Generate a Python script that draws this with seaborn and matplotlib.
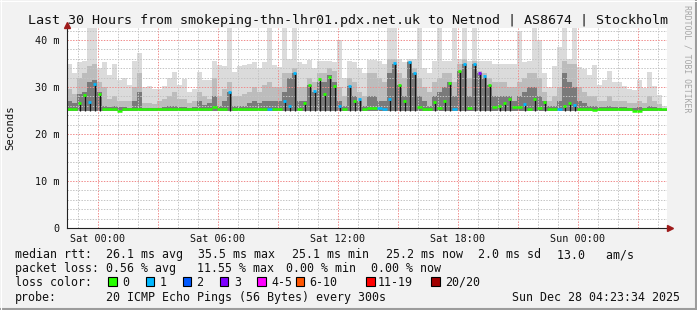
import numpy as np
import matplotlib
matplotlib.use("Agg")
import matplotlib.pyplot as plt
import seaborn as sns
from matplotlib.patches import Rectangle
from matplotlib.lines import Line2D
from matplotlib.ticker import MultipleLocator

# ---------------- data ----------------
start_hour = -1.55      # hours relative to Sat 00:00
bin_hours = 0.25        # 15 minute bins
smoke_floor = 25.0

smoke_max = [35.0, 33.0, 35.4, 35.5, 42.5, 42.5, 34.0, 35.4, 32.5, 35.0,
             31.5, 32.0, 30.5, 35.5, 37.2, 30.0, 30.3, 29.5, 29.6, 30.2,
             32.0, 33.2, 30.4, 31.8, 29.0, 29.5, 33.2, 31.5, 31.5, 35.6,
             34.7, 34.5, 43.0, 33.2, 34.5, 34.7, 34.8, 35.4, 34.0, 35.4,
             43.0, 34.7, 34.2, 43.0, 36.0, 43.0, 35.4, 35.0, 35.8, 34.0,
             35.5, 35.5, 35.5, 35.4, 40.0, 32.0, 35.5, 35.4, 34.0, 33.0,
             35.8, 35.8, 35.5, 35.0, 43.0, 43.0, 36.0, 35.4, 36.0, 36.0,
             43.0, 34.0, 33.0, 35.5, 42.5, 35.5, 35.5, 43.0, 36.0, 43.0,
             35.5, 43.0, 35.5, 35.5, 35.5, 35.0, 35.0, 35.0, 35.0, 35.0,
             42.0, 35.4, 35.5, 42.5, 40.0, 33.0, 30.0, 34.5, 38.5, 42.5,
             36.0, 43.0, 34.2, 33.8, 32.6, 34.7, 30.4, 31.4, 33.5, 31.1,
             31.1, 30.2, 29.6, 29.3, 31.4, 29.8, 33.2, 30.2, 28.3, 26.0]

smoke_mid = [29.5, 28.5, 32.0, 33.0, 34.5, 35.0, 31.0, 30.0, 27.5, 28.0,
             27.0, 27.0, 27.0, 30.0, 33.0, 26.5, 26.5, 26.3, 27.0, 27.5,
             28.0, 29.0, 27.5, 27.5, 26.5, 27.0, 29.0, 28.0, 27.5, 32.0,
             28.0, 29.5, 31.0, 28.0, 28.0, 28.5, 29.0, 30.0, 29.0, 30.5,
             31.0, 30.0, 30.0, 33.0, 33.0, 34.0, 30.0, 30.0, 32.0, 31.0,
             33.0, 33.0, 34.0, 33.5, 30.0, 28.0, 32.0, 31.0, 29.0, 28.0,
             33.0, 33.0, 32.0, 31.0, 36.0, 36.0, 33.0, 32.0, 35.5, 34.0,
             32.0, 30.0, 29.0, 31.0, 32.0, 33.0, 33.0, 31.0, 35.0, 36.0,
             32.0, 35.5, 33.5, 33.0, 32.0, 31.0, 31.0, 31.0, 30.0, 30.0,
             31.0, 32.0, 33.0, 33.0, 32.0, 29.0, 27.0, 28.0, 30.0, 35.5,
             35.0, 35.0, 30.0, 29.0, 28.0, 28.0, 27.0, 27.0, 28.0, 27.0,
             27.0, 27.0, 26.5, 26.5, 27.0, 26.5, 28.0, 27.0, 26.3, 25.5]

smoke_dark = [27.0, 26.5, 28.5, 29.0, 31.0, 31.5, 29.0, 26.0, 25.8, 26.0,
              25.7, 25.7, 25.6, 27.0, 29.0, 25.6, 25.5, 25.5, 25.6, 25.7,
              26.0, 26.0, 25.8, 25.8, 25.6, 25.7, 27.0, 26.2, 26.5, 28.0,
              26.0, 27.0, 29.0, 26.0, 26.0, 26.0, 26.5, 27.0, 26.5, 27.0,
              27.0, 27.0, 27.0, 29.0, 32.0, 32.9, 27.0, 27.0, 30.5, 29.0,
              31.0, 31.0, 32.5, 31.0, 27.0, 26.0, 30.3, 28.0, 27.0, 26.0,
              28.0, 28.0, 27.0, 27.0, 33.0, 35.0, 30.4, 28.0, 35.4, 33.0,
              28.0, 27.0, 26.0, 28.0, 29.0, 30.0, 31.0, 28.0, 33.4, 35.0,
              28.0, 35.0, 33.0, 32.0, 30.4, 28.0, 28.0, 28.0, 28.0, 27.0,
              28.0, 29.0, 30.0, 30.0, 28.0, 27.0, 26.0, 26.0, 27.0, 33.0,
              31.0, 30.0, 27.0, 26.5, 26.0, 26.0, 25.7, 25.7, 26.0, 25.7,
              25.7, 25.7, 25.6, 25.6, 25.7, 25.6, 26.0, 25.7, 25.5, 25.3]

median_rtt = [25.3, 25.3, 26.5, 28.3, 26.8, 30.7, 28.5, 25.25, 25.25, 25.25,
              25.0, 25.25, 25.25, 25.25, 25.3, 25.25, 25.25, 25.25, 25.25, 25.25,
              25.25, 25.25, 25.25, 25.25, 25.25, 25.25, 25.25, 25.25, 25.25, 25.7,
              25.25, 25.25, 29.0, 25.25, 25.25, 25.25, 25.25, 25.25, 25.25, 25.25,
              25.25, 25.25, 25.25, 27.0, 26.0, 32.9, 25.3, 26.6, 30.5, 29.1,
              31.6, 28.5, 32.2, 30.3, 26.0, 25.4, 30.3, 27.0, 27.4, 25.3,
              25.6, 25.6, 25.5, 25.3, 27.5, 35.2, 30.4, 27.0, 35.4, 33.0,
              25.8, 25.3, 25.3, 26.9, 25.5, 27.0, 30.9, 25.4, 33.4, 35.0,
              25.5, 35.0, 33.0, 32.3, 30.4, 25.7, 26.0, 26.5, 27.5, 25.8,
              25.8, 26.3, 25.4, 27.5, 25.5, 26.8, 25.25, 25.25, 25.25, 26.0,
              26.7, 26.2, 25.3, 25.3, 25.3, 25.1, 25.25, 25.25, 25.25, 25.25,
              25.25, 25.25, 25.25, 25.0, 25.0, 25.25, 25.25, 25.25, 25.25, 25.25]

loss_pings = [0, 0, 0, 0, 1, 1, 0, 0, 0, 0,
              0, 0, 0, 0, 0, 0, 0, 0, 0, 0,
              0, 0, 0, 0, 0, 0, 0, 0, 0, 0,
              0, 0, 1, 0, 0, 0, 0, 0, 0, 0,
              1, 0, 0, 1, 1, 1, 0, 0, 0, 1,
              0, 0, 0, 0, 1, 0, 1, 0, 1, 0,
              0, 0, 1, 1, 1, 1, 0, 0, 1, 1,
              0, 0, 0, 0, 0, 0, 0, 1, 0, 1,
              0, 1, 3, 1, 0, 0, 0, 0, 0, 0,
              0, 1, 0, 0, 0, 0, 0, 0, 1, 0,
              0, 1, 0, 0, 0, 0, 0, 0, 0, 0,
              0, 0, 0, 0, 0, 0, 0, 0, 0, 0]

tick_hours = [0, 6, 12, 18, 24]
tick_labels = ["Sat 00:00", "Sat 06:00", "Sat 12:00", "Sat 18:00", "Sun 00:00"]
ytick_values = [0, 10, 20, 30, 40]
ytick_labels = ["0", "10 m", "20 m", "30 m", "40 m"]

loss_labels = ["0", "1", "2", "3", "4-5", "6-10", "11-19", "20/20"]
loss_colors = ["#26ff00", "#00b8ff", "#0059ff", "#7e00ff",
               "#ff00ff", "#ff5500", "#ff0000", "#a10000"]

title = "Last 30 Hours from smokeping-thn-lhr01.pdx.net.uk to Netnod | AS8674 | Stockholm"
rtt_items = ["median rtt:", "26.1 ms avg", "35.5 ms max", "25.1 ms min",
             "25.2 ms now", "2.0 ms sd", "13.0   am/s"]
loss_items = ["packet loss:", "0.56 % avg", "11.55 % max", "0.00 % min", "0.00 % now"]
probe_items = ["probe:", "20 ICMP Echo Pings (56 Bytes) every 300s"]
stamp = "Sun Dec 28 04:23:34 2025"
credit = "RRDTOOL / TOBI OETIKER"

# ---------------- style ----------------
W, H = 697, 310
sns.set_theme(style="white")
plt.rcParams["font.family"] = ["DejaVu Sans Mono"]
plt.rcParams["axes.unicode_minus"] = False

def fx(x):
    return x / W

def fy(y):
    return 1 - y / H

BG = "#F2F2F2"
fig = plt.figure(figsize=(W / 100, H / 100), dpi=100, facecolor=BG)
L, R, T, B = 67, 667, 28, 228
ax = fig.add_axes([fx(L), fy(B), (R - L) / W, (B - T) / H])
ax.set_facecolor("white")

n = len(median_rtt)
edges = start_hour + bin_hours * np.arange(n + 1)

ax.stairs(smoke_max, edges, baseline=smoke_floor, fill=True, color="#DBDBDB", lw=0, zorder=1)
ax.stairs(smoke_mid, edges, baseline=smoke_floor, fill=True, color="#BCBCBC", lw=0, zorder=1.1)
ax.stairs(smoke_dark, edges, baseline=smoke_floor, fill=True, color="#7A7A7A", lw=0, zorder=1.2)

med = np.array(median_rtt)
centers = 0.5 * (edges[:-1] + edges[1:])
spike = med > 25.8
ax.vlines(centers[spike], smoke_floor, med[spike], color="#151515", lw=0.9, zorder=3)

def loss_idx(l):
    if l <= 3:
        return l
    if l <= 5:
        return 4
    if l <= 10:
        return 5
    if l <= 19:
        return 6
    return 7

seg_colors = np.array([loss_colors[loss_idx(l)] for l in loss_pings])
flat = ~spike
ax.hlines(med[flat], edges[:-1][flat], edges[1:][flat], colors=seg_colors[flat],
          lw=1.8, zorder=4, capstyle="butt")
# spiky medians appear as short dots
half = 0.07
ax.hlines(med[spike], centers[spike] - half, centers[spike] + half,
          colors=seg_colors[spike], lw=2.0, zorder=4, capstyle="butt")

ax.set_xlim(start_hour, start_hour + n * bin_hours)
ax.set_ylim(0, (B - T) / 4.7)

major_x = np.arange(0, 28, 3)
ax.set_xticks(major_x)
ax.set_xticklabels([tick_labels[tick_hours.index(h)] if h in tick_hours else "" for h in major_x])
ax.xaxis.set_minor_locator(MultipleLocator(1))
ax.set_yticks(ytick_values)
ax.set_yticklabels(ytick_labels)
ax.yaxis.set_minor_locator(MultipleLocator(2))

ax.set_axisbelow(False)
ax.grid(which="minor", color="#C4C4C4", ls=(0, (1.4, 1.4)), lw=0.72, zorder=2.5)
ax.grid(which="major", color="#F08C8C", ls=(0, (1.4, 1.4)), lw=0.72, zorder=2.6)

ax.tick_params(which="major", length=2, width=0.7, color="#333333",
               labelsize=7.25, labelcolor="#111111", direction="out")
ax.tick_params(axis="x", pad=2)
ax.tick_params(axis="y", pad=3.6)
ax.tick_params(which="minor", length=0)

sns.despine(ax=ax, top=True, right=True)
for s in ("left", "bottom"):
    ax.spines[s].set_color("#222222")
    ax.spines[s].set_linewidth(0.8)
    ax.spines[s].set_zorder(5)

# axis arrows
ax.add_line(Line2D([1, 1 + 2 / 600], [0, 0], transform=ax.transAxes, color="#222222",
                   lw=0.8, clip_on=False))
ax.plot([0], [1 + 3 / 200], marker="^", ms=4.2, color="#9E1B1B", transform=ax.transAxes,
        clip_on=False, zorder=6)
ax.plot([1 + 3 / 600], [0], marker=">", ms=4.2, color="#9E1B1B", transform=ax.transAxes,
        clip_on=False, zorder=6)

# title / labels
fig.text(fx(348), fy(24), title, ha="center", va="baseline", fontsize=9.6, color="#111111")
fig.text(fx(10), fy(128), "Seconds", rotation=90, ha="center", va="center",
         fontsize=7.6, color="#111111")
fig.text(fx(687), fy(59), credit, rotation=270, ha="center", va="center",
         fontsize=5.9, color="#A6A6A6")

# legend
FS = 8.4
rtt_x = [15, 106.3, 198, 292.3, 385.7, 478.3, 557.3]
for s, x in zip(rtt_items, rtt_x):
    fig.text(fx(x), fy(258.3), s, ha="left", va="baseline", fontsize=FS, color="#111111")
loss_x = [15, 106.3, 197, 286, 371.3]
for s, x in zip(loss_items, loss_x):
    fig.text(fx(x), fy(272.3), s, ha="left", va="baseline", fontsize=FS, color="#111111")
fig.text(fx(15), fy(285.7), "loss color:", ha="left", va="baseline", fontsize=FS, color="#111111")
box_x = [108, 145.5, 182.7, 220, 257.3, 295.5, 366, 431]
lab_x = [122, 159.5, 196.5, 234, 271, 309.5, 378, 445.5]
for lab, col, bx, lx in zip(loss_labels, loss_colors, box_x, lab_x):
    fig.add_artist(Rectangle((fx(bx), fy(285.8)), 8.5 / W, 8.5 / H, transform=fig.transFigure,
                             facecolor=col, edgecolor="black", lw=0.8))
    fig.text(fx(lx), fy(285.7), lab, ha="left", va="baseline", fontsize=FS, color="#111111")
fig.text(fx(15), fy(300.6), probe_items[0], ha="left", va="baseline", fontsize=FS, color="#111111")
fig.text(fx(106.3), fy(300.6), probe_items[1], ha="left", va="baseline", fontsize=FS, color="#111111")
fig.text(fx(680.5), fy(300.6), stamp, ha="right", va="baseline", fontsize=FS, color="#111111")

# 3D frame
fig.add_artist(Line2D([0, 1], [fy(308.8)] * 2, color="#9C9C9C", lw=1.5, transform=fig.transFigure))
fig.add_artist(Line2D([fx(695.8)] * 2, [0, 1], color="#9C9C9C", lw=1.5, transform=fig.transFigure))
fig.add_artist(Line2D([0, 1], [fy(0.5)] * 2, color="#FFFFFF", lw=0.8, transform=fig.transFigure))
fig.add_artist(Line2D([fx(0.5)] * 2, [0, 1], color="#FFFFFF", lw=0.8, transform=fig.transFigure))

fig.savefig("out.png", dpi=100, facecolor=BG)
